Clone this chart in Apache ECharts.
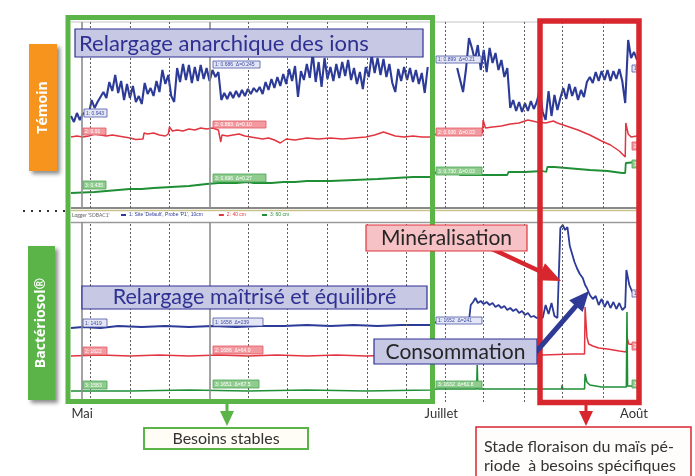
<!DOCTYPE html>
<html><head><meta charset="utf-8">
<script src="https://cdn.jsdelivr.net/npm/echarts@6/dist/echarts.min.js"></script>
<style>html,body{margin:0;padding:0;background:#fff}#c{width:695px;height:476px}</style>
</head><body><div id="c"></div>
<script>
// ---------- DATA ----------
const dayMin = 0, dayMax = 96;                 // days since 29 April
const monthTicks = [1.9, 62.8, 95.5];
const monthLabels = ['Mai', 'Juillet', 'Août'];
const weekLines = [3.2, 10, 16.6, 30, 36.6, 43.4, 50.2, 56.8, 63.4, 70, 76.8, 83.4, 90.2];
const majorLines = [1.9, 23.6];
const probeNames = ["1: Site 'Default', Probe 'P1', 10cm", '2: 40 cm', '3: 60 cm'];
const sampleStep = 0.5;

// Témoin (top panel) — probe 1, half-day samples
const temoinBlueStartA = 0;
const temoinBlueA = [
  92,86,95,88,94,96,93,108,100,106,111,116,110,126,117,133,115,127,108,124,
  110,122,106,112,104,125,114,120,112,127,116,138,124,133,112,106,140,126,144,128,
  143,125,141,127,143,129,140,127,138,131,136,108,115,109,116,110,117,111,118,112,
  119,114,120,116,121,114,126,118,129,120,131,122,134,124,139,127,142,111,137,128,
  144,130,155,126,146,121,150,129,141,127,144,130,146,132,148,128,140,124,136,119,
  141,131,153,135,150,133,149,131,144,125,116,139,127,141,128,140,126,138,124,135,
  115,141];
const temoinBlueStartB = 65.5;
const temoinBlueB = [
  140,128,116,139,170,160,148,163,138,158,
  136,160,145,155,138,148,131,140,100,108,
  97,106,96,105,97,107,99,106,118,96,
  88,117,92,113,98,110,120,109,124,112,
  121,108,118,111,126,131,125,136,127,137,
  128,138,127,137,129,139,127,105,168,150,
  156,148];
const temoinRed = [[0,71],[1,72],[2,71],[3,72],[4,74],[5,73],[6,72],[7,73],[8,72],[9,71],[10,70],[11,68.5],[12.2,69],[12.4,75],[13,74],[14,75],[15,73],[16,72],[16.5,74],[16.7,81],[17.2,77],[18,78],[19,77],[20,79],[21,78],[22,80],[23,79],[24,80],[25,78],[25.3,76],[25.4,66],[25.6,73],[26.5,72],[27.5,73],[28.5,74],[29.5,72],[30.5,71],[31.5,70],[32.5,69],[33.5,70],[34.5,68],[35.5,65],[36.5,69],[38,68],[40,70],[42,69],[44,70],[46,69],[48,70],[50,71],[51.5,73],[53,76],[54,74],[55,72],[56.5,71],[58,72],[59.5,71],[60.9,71],[62,74],[64,75],[66,75],[68,74],[69.8,75],[69.9,88],[70.3,80],[71.5,81],[73,82],[74.5,84],[76,85],[77.5,88],[79,86],[80.5,85],[81.8,87],[82.5,85],[84,82],[86,78],[88,73],[90,67],[91.5,63],[93,57],[94,51],[94.1,85],[94.5,74],[95,71],[96,72]];
const temoinGreen = [[0,15],[2,15.5],[4,16],[6,17],[8,18],[10,19],[12,19],[14,20],[17,21],[20,22],[23,24],[25,25],[28,25],[30,26],[31,25],[34,25],[36,26],[38,26],[40,27],[44,27],[48,28],[52,29],[55,30],[58,31],[60.9,31],[62,36],[64,36],[65.5,35],[66,33],[70,33],[74,33],[74.2,36],[77,36],[80,37],[80.6,36],[80.8,41],[82,41],[84,40],[86,39],[88,38],[91,37],[93.5,35],[94,35],[94.1,45],[96,46]];

// Bactériosol (bottom panel)
const bacterioBlue = [[0,74],[2,75],[5,74],[8,76],[12,75],[16,76],[20,75],[24,76],[28,75],[32,76],[36,76],[40,77],[44,76],[48,77],[52,76],[56,77],[60.9,77],[62,80],[64,80],[66,81],[67.5,81],[67.8,97],[68.2,100],[68.6,104],[69,99],[69.5,101],[70,98],[70.5,100],[71,97],[71.5,99],[72,95],[72.5,97],[73,94],[73.5,96],[74,92],[74.5,94],[75,91],[75.5,93],[76,89],[76.5,91],[77,87],[77.5,89],[78,85],[78.5,86],[79,84],[79.5,85],[80,84],[80.5,97],[81,88],[81.5,99],[82,86],[82.5,84],[83,174],[83.4,177],[83.8,172],[84.2,175],[84.6,156],[85,148],[85.4,140],[85.8,134],[86.3,128],[86.8,124],[87.2,117],[87.5,114],[88,107],[88.5,103],[89,106],[89.5,97],[90,103],[90.5,95],[91,101],[91.5,94],[92,100],[92.5,93],[93,99],[93.5,92],[94,95],[94.2,132],[94.7,117],[95.2,110],[96,108]];
const bacterioRed = [[0,46],[5,47],[10,46],[15,47],[20,46],[25,47],[30,46],[35,47],[40,46],[45,47],[50,46],[55,47],[60.9,47],[62,48],[70,48],[75,48],[80,47],[85,48],[87.1,48],[87.2,95],[87.5,65],[87.8,58],[88.5,56],[89.5,54],[91,53],[93,51],[94.2,50],[94.3,65],[94.6,58],[96,57]];
const bacterioGreen = [[0,11],[10,11],[20,12],[30,11],[40,12],[50,11],[60.9,12],[62,13],[68.8,13],[68.9,37],[69.0,13],[75,13],[80,13],[83.2,13],[83.3,17],[83.4,13],[87.1,13],[87.2,28],[87.5,20],[88,17],[90,15],[94.2,15],[94.3,90],[94.4,16],[96,16]];

// ---------- STYLE ----------
const C = {blue:'#2c3a98', red:'#e23540', green:'#1f8f36', fGreen:'#5bb447', fRed:'#d8262e',
  orange:'#f7941d', boxBlue:'#c6c8e4', boxBlueLine:'#2e3192', boxPink:'#f7c2c5', txt:'#262626'};
const FONT = 'Lato, "Open Sans", sans-serif';

const tb = temoinBlueA.map((v,i)=>[temoinBlueStartA + i*sampleStep, v])
  .concat([[63, null]], temoinBlueB.map((v,i)=>[temoinBlueStartB + i*sampleStep, v]));

function line(name, data, g, color, w) {
  return {type:'line', name, xAxisIndex:g, yAxisIndex:g, data, showSymbol:false, symbol:'none',
    lineStyle:{color, width:w}, itemStyle:{color}, z:3, animation:false, connectNulls:false};
}
function gridSeries(g) {
  return {type:'line', name:'_grid'+g, xAxisIndex:g, yAxisIndex:g, data:[], silent:true, z:1,
    markLine:{silent:true, symbol:['none','none'], label:{show:false}, animation:false,
      lineStyle:{color:'#5e5e5e', type:[2,2], width:1},
      data: weekLines.map(v=>({xAxis:v})).concat(majorLines.map(v=>({xAxis:v,
        lineStyle:{color:'#8c8c8c', type:'solid', width:1.6}})))}};
}
function rect(x,y,w,h,fill,stroke,lw,z,extra) {
  return Object.assign({type:'rect', z, shape:{x,y,width:w,height:h},
    style:{fill:fill||'none', stroke:stroke||'none', lineWidth:lw||0}}, extra||{});
}
function text(x,y,str,st,z,rot) {
  return {type:'text', z, x, y, rotation:rot||0,
    style:Object.assign({text:str, fontFamily:FONT, align:'center', verticalAlign:'middle'}, st)};
}
function seg(x1,y1,x2,y2,color,lw,z,dash) {
  return {type:'line', z, shape:{x1,y1,x2,y2}, style:{stroke:color, lineWidth:lw, lineDash:dash||null}};
}
function arrow(x1,y1,x2,y2,sw,hl,hw,color,z) {
  const dx=x2-x1, dy=y2-y1, L=Math.hypot(dx,dy), ux=dx/L, uy=dy/L, nx=-uy, ny=ux;
  const bx=x2-ux*hl, by=y2-uy*hl;
  return {type:'polygon', z, shape:{points:[
    [x1+nx*sw/2,y1+ny*sw/2],[bx+nx*sw/2,by+ny*sw/2],[bx+nx*hw/2,by+ny*hw/2],[x2,y2],
    [bx-nx*hw/2,by-ny*hw/2],[bx-nx*sw/2,by-ny*sw/2],[x1-nx*sw/2,y1-ny*sw/2]]},
    style:{fill:color}};
}
const tagStyle = [
  {fill:'#e4e6f5', stroke:'#4a56a8', color:'#3b4aa0'},
  {fill:'#f29aa0', stroke:'#e35560', color:'#ffffff'},
  {fill:'#8fcc8e', stroke:'#4aa456', color:'#ffffff'}];
const tags = [
  [84,109,23,8,0,'1: 0.943'],[83,128,23,7,1,'2: 0.91'],[83,181,23,8,2,'3: 0.435'],
  [213,61,47,7,0,'1: 0.686  Δ=0.245'],[213,121,53,7,1,'2: 0.883  Δ=0.10'],[213,174,53,8,2,'3: 0.696  Δ=0.27'],
  [436,56,45,7,0,'1: 0.899  Δ=0.21'],[436,128,46,8,1,'2: 0.936  Δ=0.03'],[436,167,46,8,2,'3: 0.730  Δ=0.03'],
  [632,65,8,7,0,'1'],[632,142,8,8,1,'2'],[632,160,8,8,2,'3'],
  [83,319,24,8,0,'1: 1419'],[83,347,24,8,1,'2: 1622'],[83,381,24,8,2,'3: 1583'],
  [213,318,50,8,0,'1: 1658  Δ=239'],[213,346,50,8,1,'2: 1686  Δ=64.0'],[213,380,46,8,2,'3: 1651  Δ=67.5'],
  [436,317,46,7,0,'1: 1652  Δ=241'],[436,381,46,7,2,'3: 1632  Δ=61.8'],
  [632,290,8,7,0,'1'],[632,342,8,8,1,'2'],[632,380,8,8,2,'3']];

const graphics = [];
// strip between panels
graphics.push(seg(71,22,637,22,'#c4c4c4',1,1));
graphics.push(seg(71,208,637,208,'#8a8a8a',2,1));
graphics.push(seg(71,210.5,637,210.5,'#c9c38c',1.6,1));
graphics.push(seg(71,222.5,637,222.5,'#9a9a9a',1.4,1));
graphics.push(text(72,215.5,"Logger 'SOBAC1'",{fontSize:5, fill:'#666', align:'left'},5));
// cursor tags
tags.forEach(t=>{
  const s = tagStyle[t[4]];
  graphics.push(rect(t[0],t[1],t[2],t[3],s.fill,s.stroke,0.8,40));
  graphics.push(text(t[0]+2,t[1]+t[3]/2+0.5,t[5],{fontSize:5, fill:s.color, align:'left', fontFamily:'Arial, sans-serif'},41));
});
// frames
graphics.push(rect(68,17.5,364.5,384,null,C.fGreen,5,60));
graphics.push(rect(540,21,99,381.5,null,C.fRed,5.5,60));
// left labels
graphics.push(rect(29,44,28,127,C.orange,null,0,70,{style:{fill:C.orange, shadowBlur:4, shadowOffsetX:3, shadowOffsetY:3, shadowColor:'rgba(0,0,0,0.45)'}}));
graphics.push(text(43,107.5,'Témoin',{fontSize:14, fontWeight:'bold', fill:'#fff', fontFamily:'"Open Sans", sans-serif'},71,Math.PI/2));
graphics.push(rect(28,246,27,154,C.fGreen,null,0,70,{style:{fill:C.fGreen, shadowBlur:4, shadowOffsetX:3, shadowOffsetY:3, shadowColor:'rgba(0,0,0,0.45)'}}));
graphics.push(text(41.5,323,'Bactériosol®',{fontSize:14, fontWeight:'bold', fill:'#fff', fontFamily:'"Open Sans", sans-serif'},71,Math.PI/2));
graphics.push(seg(23,211,67,211,'#333',2,70,[2,6]));
// annotation boxes
graphics.push(rect(75,29,348,28,C.boxBlue,C.boxBlueLine,1.2,70));
graphics.push(text(79,43.5,'Relargage anarchique des ions',{fontSize:22, fill:'#2e3192', align:'left'},71));
graphics.push(rect(82,286,345,23,C.boxBlue,C.boxBlueLine,1.2,70));
graphics.push(text(254.5,297.5,'Relargage maîtrisé et équilibré',{fontSize:21.5, fill:'#2e3192'},71));
graphics.push(arrow(492,249,561,281,4.5,22,19,C.fRed,69));
graphics.push(arrow(536,352,589,291,5,20,18,'#2e3a96',69));
graphics.push(rect(366,225,161,26,C.boxPink,'#e0323c',1.2,70));
graphics.push(text(446.5,238.5,'Minéralisation',{fontSize:21, fill:C.txt},71));
graphics.push(rect(374,339,163,25,C.boxBlue,C.boxBlueLine,1.2,70));
graphics.push(text(455.5,352,'Consommation',{fontSize:21, fill:C.txt},71));
// bottom notes
graphics.push(arrow(227,403,227,426,3,15,14,C.fGreen,70));
graphics.push(arrow(586,405,586,426,3,15,14,C.fRed,70));
graphics.push(rect(144,428,164,21,'#fffdf6',C.fGreen,2,70));
graphics.push(text(226,438.5,'Besoins stables',{fontSize:16, fill:'#333'},71));
graphics.push(rect(476,427,215,60,'#fffdfc',C.fRed,1.5,70));
graphics.push(text(484,456.5,'Stade floraison du maïs pé-\nriode  à besoins spécifiques',{fontSize:16, fill:'#333', align:'left', lineHeight:19},71));

const option = {
  animation:false,
  backgroundColor:'#fff',
  grid:[{left:71, top:22, width:566, height:186}, {left:71, top:222, width:566, height:180}],
  xAxis:[
    {gridIndex:0, type:'value', min:dayMin, max:dayMax, axisLine:{show:false}, axisTick:{show:false}, axisLabel:{show:false}, splitLine:{show:false}},
    {gridIndex:1, type:'value', min:dayMin, max:dayMax, axisLine:{show:false}, axisTick:{show:false}, splitLine:{show:false},
     axisLabel:{show:true, customValues:monthTicks, margin:5, fontSize:13, color:'#333', fontFamily:FONT,
       formatter:v=>{const i=monthTicks.findIndex(m=>Math.abs(m-v)<1e-6); return i>=0?monthLabels[i]:'';}}}
  ],
  yAxis:[
    {gridIndex:0, type:'value', min:0, max:186, show:false},
    {gridIndex:1, type:'value', min:0, max:180, show:false}
  ],
  legend:{left:121, top:212.5, itemWidth:5, itemHeight:2, itemGap:16, icon:'rect', padding:0,
    textStyle:{fontSize:5, fontFamily:'Arial, sans-serif', padding:[0,0,0,-2]},
    data:probeNames.map((n,i)=>({name:n, textStyle:{color:[C.blue,C.red,C.green][i]}}))},
  series:[
    gridSeries(0), gridSeries(1),
    line(probeNames[0], tb, 0, C.blue, 2.1),
    line(probeNames[1], temoinRed, 0, C.red, 1.5),
    line(probeNames[2], temoinGreen, 0, C.green, 1.8),
    line(probeNames[0], bacterioBlue, 1, C.blue, 1.8),
    line(probeNames[1], bacterioRed, 1, C.red, 1.5),
    line(probeNames[2], bacterioGreen, 1, C.green, 1.6)
  ],
  graphic:{elements:graphics}
};
const chart = echarts.init(document.getElementById('c'), null, {renderer:'canvas'});
chart.setOption(option);
</script></body></html>
